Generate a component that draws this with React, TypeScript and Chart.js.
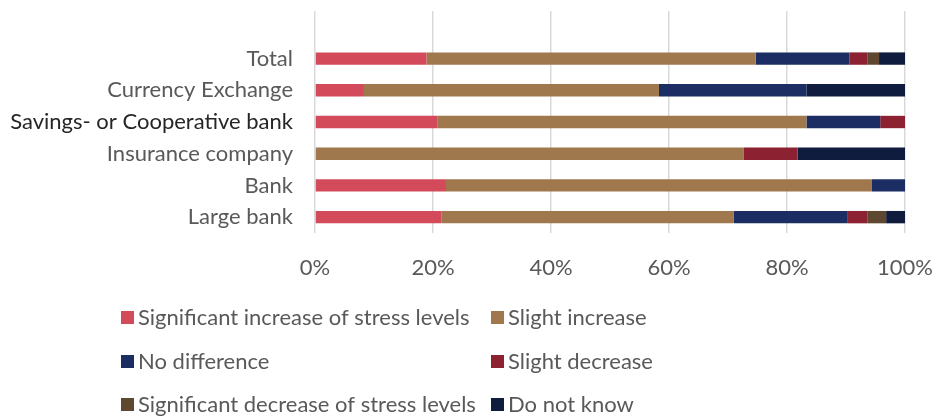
import React, { useEffect, useRef } from "react";
import { Chart, registerables } from "chart.js";

Chart.register(...registerables);

const categories = ["", "Total", "Currency Exchange", "Savings- or Cooperative bank", "Insurance company", "Bank", "Large bank"];
const sigIncrease = [null, 18.9, 8.3, 20.8, 0, 22.2, 21.4];
const slightIncrease = [null, 55.8, 50.0, 62.5, 72.7, 72.2, 49.6];
const noDifference = [null, 15.9, 25.0, 12.5, 0, 5.6, 19.3];
const slightDecrease = [null, 3.0, 0, 4.2, 9.1, 0, 3.3];
const sigDecrease = [null, 2.0, 0, 0, 0, 0, 3.2];
const doNotKnow = [null, 4.4, 16.7, 0, 18.2, 0, 3.2];
const xTicks = [0, 20, 40, 60, 80, 100];

const seriesNames = [
  "Significant increase of stress levels",
  "Slight increase",
  "No difference",
  "Slight decrease",
  "Significant decrease of stress levels",
  "Do not know",
];
const seriesColors = ["#D34A5B", "#A0784D", "#1B2D62", "#8B2131", "#5F4831", "#101C3D"];

const FONT = "Lato";

const legendPlugin = {
  id: "gridLegend",
  afterDraw(chart: any) {
    const ctx = chart.ctx;
    const cols = [121, 491];
    const rows = [318, 362, 405];
    ctx.save();
    ctx.font = `22px ${FONT}`;
    ctx.textBaseline = "middle";
    ctx.textAlign = "left";
    seriesNames.forEach((name, i) => {
      const x = cols[i % 2];
      const y = rows[Math.floor(i / 2)];
      ctx.fillStyle = seriesColors[i];
      ctx.fillRect(x, y - 7, 13, 13);
      ctx.fillStyle = "#595959";
      ctx.fillText(name, x + 17, y);
    });
    ctx.restore();
  },
};

export default function App() {
  const ref = useRef<HTMLCanvasElement | null>(null);
  useEffect(() => {
    document.body.style.margin = "0";
    const data = [sigIncrease, slightIncrease, noDifference, slightDecrease, sigDecrease, doNotKnow];
    const chart = new Chart(ref.current as HTMLCanvasElement, {
      type: "bar",
      data: {
        labels: categories,
        datasets: data.map((d, i) => ({
          label: seriesNames[i],
          data: d,
          backgroundColor: seriesColors[i],
          borderWidth: 0,
          barPercentage: 0.39,
          categoryPercentage: 1,
        })),
      },
      options: {
        indexAxis: "y",
        animation: false,
        responsive: false,
        layout: { padding: { top: 11, right: 30, left: 0, bottom: 0 } },
        plugins: { legend: { display: false }, tooltip: { enabled: false } },
        scales: {
          x: {
            stacked: true,
            min: 0,
            max: 100,
            afterBuildTicks: (scale: any) => {
              scale.ticks = xTicks.map((v) => ({ value: v }));
            },
            afterFit: (scale: any) => {
              scale.height = 419 - 233;
              scale.paddingLeft = 0;
              scale.paddingRight = 0;
              scale.paddingTop = 0;
              scale.paddingBottom = 0;
            },
            grid: { color: "#D9D9D9", lineWidth: 1.5, drawTicks: false },
            border: { display: false },
            ticks: {
              padding: 22,
              color: "#595959",
              font: { family: FONT, size: 22 },
              callback: (v: any) => v + "%",
            },
          },
          y: {
            stacked: true,
            afterFit: (scale: any) => {
              scale.width = 315;
              scale.paddingLeft = 0;
              scale.paddingRight = 0;
              scale.paddingTop = 0;
              scale.paddingBottom = 0;
            },
            grid: { display: false, drawTicks: false },
            border: { display: false },
            ticks: {
              padding: 22,
              autoSkip: false,
              color: (c: any) => (c.index === 3 ? "#262626" : "#595959"),
              font: (c: any) => ({ family: FONT, size: 22 }),
            },
          },
        },
      },
      plugins: [legendPlugin],
    });
    return () => chart.destroy();
  }, []);
  return (
    <div style={{ width: 935, height: 419, background: "#fff" }}>
      <canvas ref={ref} width={935} height={419} style={{ display: "block" }} />
    </div>
  );
}
